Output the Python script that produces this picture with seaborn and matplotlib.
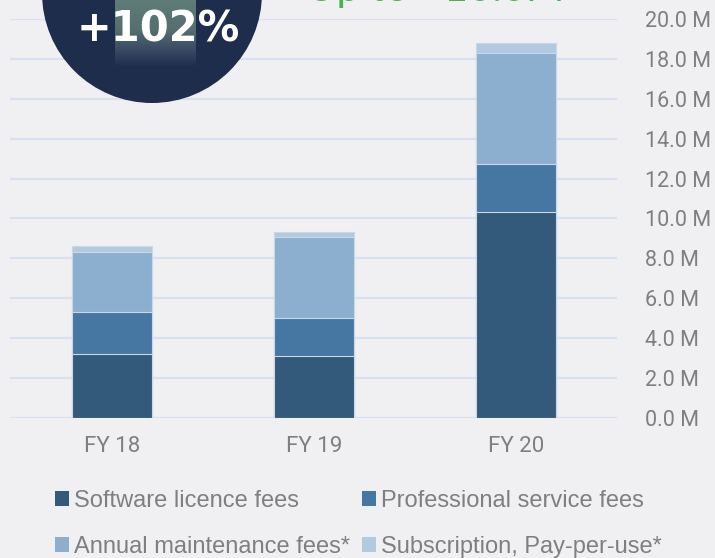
import numpy as np
import pandas as pd
import matplotlib
matplotlib.use("Agg")
import matplotlib.pyplot as plt
import seaborn as sns
from matplotlib.patches import Ellipse, Patch
from matplotlib.colors import LinearSegmentedColormap

# Data (values in M)
years = ["FY 18", "FY 19", "FY 20"]
software = [3.2, 3.1, 10.35]
professional = [2.1, 1.9, 2.4]
maintenance = [3.0, 4.05, 5.55]
subscription = [0.3, 0.25, 0.5]
series_names = ["Software licence fees", "Professional service fees",
                "Annual maintenance fees*", "Subscription, Pay-per-use*"]
colors = ["#335a7b", "#4677a3", "#8cafcf", "#b2cadf"]
yticks = [0, 2, 4, 6, 8, 10, 12, 14, 16, 18, 20]

bg = "#f0f0f2"
sns.set_theme(style="white")
plt.rcParams["font.family"] = ["Roboto", "DejaVu Sans"]

df = pd.DataFrame({"year": years, "s1": software, "s2": professional,
                   "s3": maintenance, "s4": subscription})
# cumulative heights, drawn tallest first so each layer shows as a stack
cum = df[["s1", "s2", "s3", "s4"]].cumsum(axis=1)

fig = plt.figure(figsize=(7.15, 5.58), dpi=100, facecolor=bg)
ax = fig.add_axes([10 / 715, 1 - 418 / 558, 607 / 715, 399 / 558])
ax.set_facecolor(bg)

for col, c in zip(["s4", "s3", "s2", "s1"], colors[::-1]):
    sns.barplot(x=df["year"], y=cum[col], color=c, width=0.4, ax=ax,
                edgecolor="#c9d7e6", linewidth=0.8, saturation=1, zorder=3)

ax.set_xlim(-0.505, 2.5)
ax.set_ylim(0, 20)
ax.set_yticks(yticks)
ax.set_yticklabels([f"{v:.1f} M" for v in yticks])
ax.yaxis.tick_right()
ax.yaxis.grid(True, color="#d9e1f0", linewidth=1.6, zorder=0)
ax.set_axisbelow(True)
for s in ax.spines.values():
    s.set_visible(False)
ax.tick_params(axis="y", length=0, pad=20, labelsize=15.5, labelcolor="#7f7f7f")
ax.tick_params(axis="x", length=0, pad=13, labelsize=16, labelcolor="#7f7f7f")
ax.set_xlabel("")
ax.set_ylabel("")

# Legend, filled row by row like the original
order = [0, 2, 1, 3]
handles = [Patch(facecolor=colors[i], edgecolor="none") for i in order]
labels = [series_names[i] for i in order]
leg = fig.legend(handles, labels, loc="center left", ncol=2,
                 bbox_to_anchor=(34 / 715, 1 - 524 / 558), frameon=False,
                 handlelength=0.6, handleheight=0.6, handletextpad=0.2,
                 columnspacing=0.5, labelspacing=1.0,
                 prop={"family": ["Liberation Sans Narrow", "Liberation Sans"], "size": 17})
for t in leg.get_texts():
    t.set_color("#7f7f7f")

# Dark circle badge at top left
circ = Ellipse((152 / 715, 1 + 7 / 558), 220 / 715, 220 / 558,
               transform=fig.transFigure, facecolor="#1f2d4d", edgecolor="none", zorder=5)
fig.add_artist(circ)

grad_ax = fig.add_axes([115 / 715, 1 - 67 / 558, 81 / 715, 67 / 558], zorder=6)
cmap = LinearSegmentedColormap.from_list(
    "badge", [(0, "#5f7c77"), (0.45, "#53706f"), (0.72, "#3c4d66"), (1, "#1f2d4d")])
grad_ax.imshow(np.linspace(0, 1, 100).reshape(-1, 1), aspect="auto", cmap=cmap)
grad_ax.axis("off")

fig.text(158 / 715, 1 - 29 / 558, "+102%", color="white", fontsize=30,
         fontweight="bold", ha="center", va="center", family=["DejaVu Sans"],
         zorder=7)

fig.text(306 / 715, 1 - 1 / 558, "Up to +10.0M", color="#4cb04f", fontsize=30,
         ha="left", va="baseline", family=["Lato", "DejaVu Sans"], zorder=7)

fig.savefig("out.png", dpi=100, facecolor=bg)
